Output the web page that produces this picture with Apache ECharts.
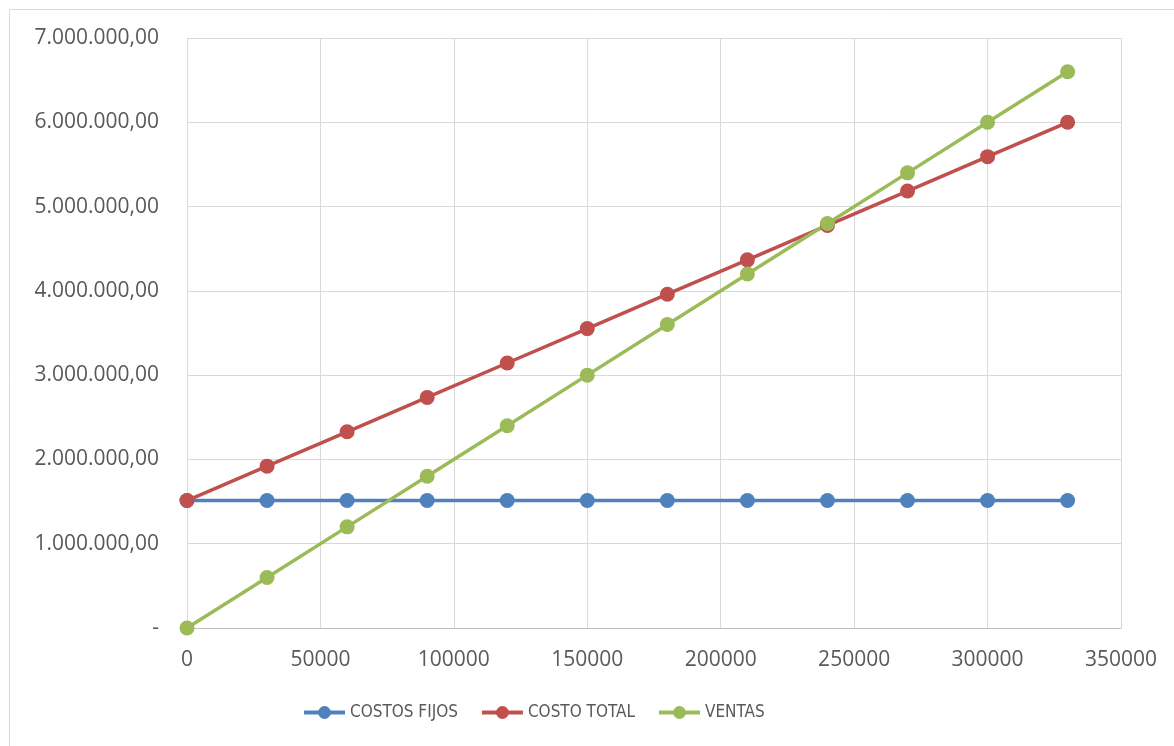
<!DOCTYPE html>
<html>
<head>
<meta charset="utf-8">
<script src="https://cdn.jsdelivr.net/npm/echarts@6/dist/echarts.min.js"></script>
<style>
  html, body { margin: 0; padding: 0; background: #fff; }
  #chart { width: 1174px; height: 746px; }
</style>
</head>
<body>
<div id="chart"></div>
<script>
// units sold (x values)
var unidades = [0, 30000, 60000, 90000, 120000, 150000, 180000, 210000, 240000, 270000, 300000, 330000];
var costosFijos = [1512000, 1512000, 1512000, 1512000, 1512000, 1512000, 1512000, 1512000, 1512000, 1512000, 1512000, 1512000];
var costoTotal = [1512000, 1920000, 2328000, 2736000, 3144000, 3552000, 3960000, 4368000, 4776000, 5184000, 5592000, 6000000];
var ventas = [0, 600000, 1200000, 1800000, 2400000, 3000000, 3600000, 4200000, 4800000, 5400000, 6000000, 6600000];
var seriesNames = ['COSTOS FIJOS', 'COSTO TOTAL', 'VENTAS'];

var FONT = '"Open Sans", sans-serif';
var LEGEND_FONT = '"DejaVu Sans Condensed", "Open Sans", sans-serif';

function pairs(ys) {
    return unidades.map(function (x, i) { return [x, ys[i]]; });
}

function fmtMoney(v) {
    if (v === 0) return '-';
    var s = Math.round(v).toString().replace(/\B(?=(\d{3})+(?!\d))/g, '.');
    return s + ',00';
}

var myChart = echarts.init(document.getElementById('chart'));

function lineSeries(name, ys, color) {
    return {
        name: name,
        type: 'line',
        data: pairs(ys),
        symbol: 'circle',
        symbolSize: 15,
        showAllSymbol: true,
        lineStyle: { color: color, width: 3.5 },
        itemStyle: { color: color },
        emphasis: { disabled: true }
    };
}

var option = {
    backgroundColor: '#fff',
    animation: false,
    color: ['#4f81bd', '#c0504d', '#9bbb59'],
    graphic: [{
        type: 'rect',
        shape: { x: 9.5, y: 9.5, width: 1300, height: 900 },
        style: { fill: 'none', stroke: '#d9d9d9', lineWidth: 1 },
        silent: true
    }],
    grid: {
        left: 187,
        right: 53,
        top: 38,
        bottom: 118
    },
    legend: {
        data: seriesNames,
        bottom: 20,
        left: 297,
        itemWidth: 41,
        itemHeight: 16,
        itemGap: 22,
        lineStyle: { width: 4 },
        textStyle: { fontFamily: LEGEND_FONT, fontSize: 17, color: '#595959' }
    },
    xAxis: {
        type: 'value',
        min: 0,
        max: 350000,
        interval: 50000,
        axisLine: { show: true, lineStyle: { color: '#bfbfbf', width: 1 } },
        axisTick: { show: false },
        splitLine: { show: true, lineStyle: { color: '#d9d9d9', width: 1 } },
        axisLabel: {
            margin: 22,
            formatter: function (v) { return String(v); },
            fontFamily: FONT, fontSize: 21, color: '#595959'
        }
    },
    yAxis: {
        type: 'value',
        min: 0,
        max: 7000000,
        interval: 1000000,
        axisLine: { show: false },
        axisTick: { show: false },
        splitLine: { show: true, lineStyle: { color: '#d9d9d9', width: 1 } },
        axisLabel: {
            margin: 28,
            formatter: fmtMoney,
            fontFamily: FONT, fontSize: 21, color: '#595959'
        }
    },
    series: [
        lineSeries(seriesNames[0], costosFijos, '#4f81bd'),
        lineSeries(seriesNames[1], costoTotal, '#c0504d'),
        lineSeries(seriesNames[2], ventas, '#9bbb59')
    ]
};

myChart.setOption(option);
</script>
</body>
</html>
